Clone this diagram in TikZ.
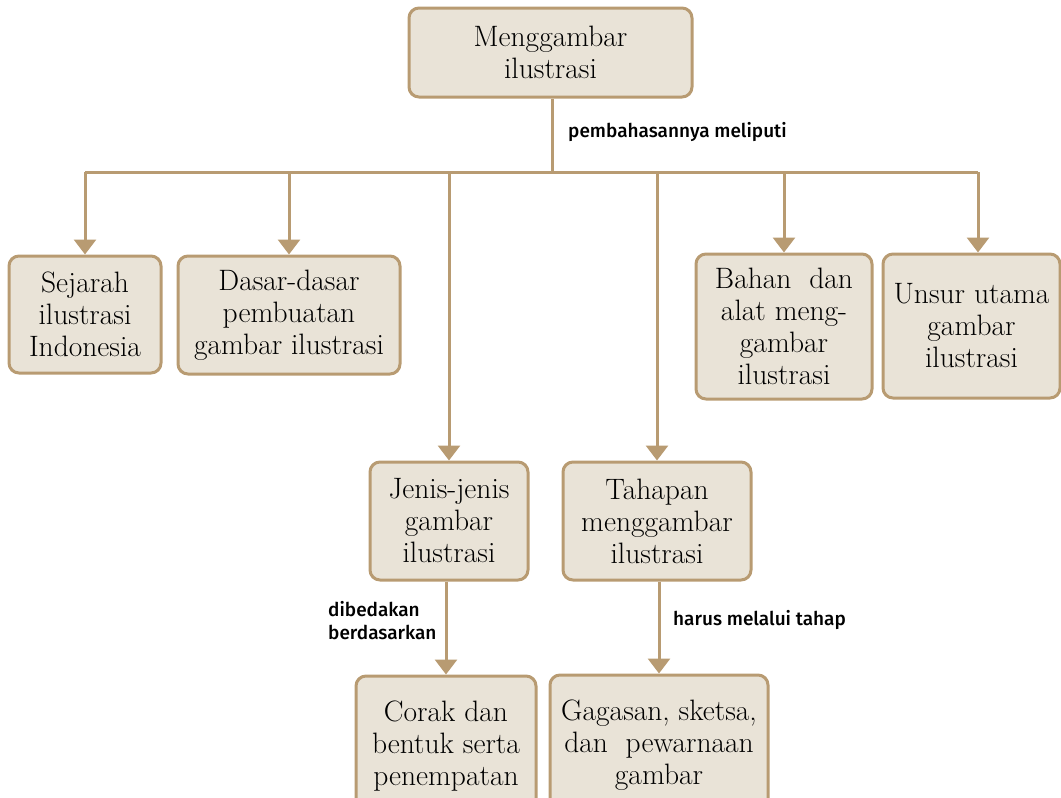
\documentclass[tikz,border=0pt]{standalone}
\usepackage{fontspec}
\setsansfont{Fira Sans}[UprightFont=* Medium]
\usetikzlibrary{arrows.meta}
\definecolor{tan}{HTML}{B89B72}
\definecolor{paper}{HTML}{E9E3D7}
\tikzset{%
	box/.style = {draw=tan,fill=paper,line width=3pt,rounded corners=10pt,align=center,inner sep=0pt,font=\fontsize{29.5}{32}\selectfont},
	link/.style = {draw=tan,line width=3pt},
	drop/.style = {link,-{Triangle[width=22pt,length=15pt]},color=tan},
	note/.style = {font=\sffamily\fontsize{19}{23}\selectfont,align=left,anchor=west,inner sep=0pt}%
}
\begin{document}
\begin{tikzpicture}[x=1pt,y=-1pt]
		\useasboundingbox (0,0) rectangle (1061,798);
		
		\node(top)[box,minimum width=283pt,minimum height=89pt] at (550.5,52.5){Menggambar\\ilustrasi};
		\node(sej)[box,minimum width=152pt,minimum height=117pt] at (85,314.5){Sejarah\\ilustrasi\\Indonesia};
		\node(dsr)[box,minimum width=222pt,minimum height=118pt] at (289,315){Dasar-dasar\\pembuatan\\gambar ilustrasi};
		\node(bhn)[box,minimum width=176pt,minimum height=145pt] at (784,326.5){Bahan~ dan\\alat meng-\\gambar\\ilustrasi};
		\node(uns)[box,minimum width=177pt,minimum height=144pt] at (971.5,326){Unsur utama\\gambar\\ilustrasi};
		\node(jns)[box,minimum width=158pt,minimum height=118pt] at (449,521){Jenis-jenis\\gambar\\ilustrasi};
		\node(thp)[box,minimum width=188pt,minimum height=118pt] at (657,521){Tahapan\\menggambar\\ilustrasi};
		\node(crk)[box,minimum width=180pt,minimum height=140pt] at (446,746){Corak dan\\bentuk serta\\penempatan};
		\node(ggs)[box,minimum width=218pt,minimum height=140pt] at (659,745){Gagasan, sketsa,\\dan~ pewarnaan\\gambar};
		
		% main branch
		\coordinate(hub) at (552,172);
		\draw[link] (top.south-|hub) -- (hub);
		\draw[link] (85,172) -- (978,172);
		\node[note] at (568,132){pembahasannya meliputi};
		
		\draw[drop] (sej.north|-hub) -- (sej.north);
		\draw[drop] (dsr.north|-hub) -- (dsr.north);
		\draw[drop] (jns.north|-hub) -- (jns.north);
		\draw[drop] (thp.north|-hub) -- (thp.north);
		\draw[drop] (bhn.north|-hub) -- (bhn.north);
		\draw[drop] ([xshift=6.5pt]uns.north|-hub) -- ([xshift=6.5pt]uns.north);
		
		% lower branches
		\draw[drop] (jns.south-|crk.north) -- (crk.north);
		\node[note] at (328,621){dibedakan\\berdasarkan};
		\draw[drop] (thp.south-|ggs.north) -- (ggs.north);
		\node[note] at (673,620){harus melalui tahap};
\end{tikzpicture}
\end{document}
